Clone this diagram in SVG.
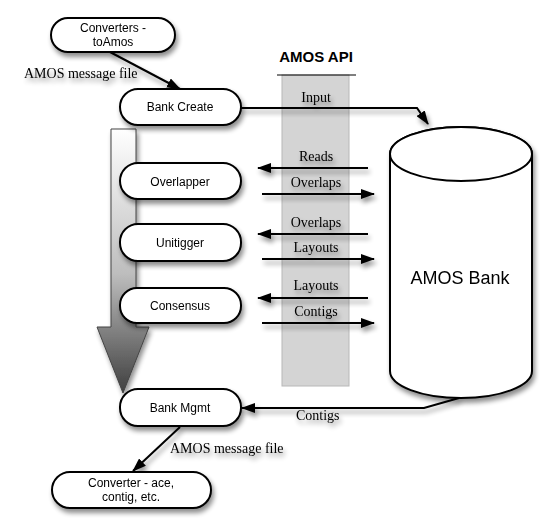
<svg xmlns="http://www.w3.org/2000/svg" width="552" height="532" viewBox="0 0 552 532">
  <defs>
    <filter id="sh" x="-20%" y="-20%" width="150%" height="160%">
      <feGaussianBlur in="SourceAlpha" stdDeviation="2.5"/>
      <feOffset dx="2" dy="4" result="b"/>
      <feComponentTransfer><feFuncA type="linear" slope="0.45"/></feComponentTransfer>
      <feMerge><feMergeNode/><feMergeNode in="SourceGraphic"/></feMerge>
    </filter>
    <linearGradient id="grad" x1="0" y1="0" x2="0" y2="1">
      <stop offset="0" stop-color="#ffffff"/>
      <stop offset="0.55" stop-color="#bdbdbd"/>
      <stop offset="1" stop-color="#3f3f3f"/>
    </linearGradient>
    <marker id="ah" markerWidth="14" markerHeight="10" refX="13" refY="5" orient="auto" markerUnits="userSpaceOnUse">
      <path d="M0,0 L14,5 L0,10 Z" fill="#000"/>
    </marker>
  </defs>
  <style>
    .node rect { fill: #fff; stroke: #000; stroke-width: 2; }
    .nt { font-family: "Liberation Sans", Arial, sans-serif; font-size: 12px; fill: #000; text-anchor: middle; }
    .lbl { font-family: "Liberation Serif", "Times New Roman", serif; font-size: 14px; fill: #000; }
    .mid { text-anchor: middle; }
    .conn line, .conn path { stroke: #000; stroke-width: 2; fill: none; marker-end: url(#ah); }
  </style>
  <rect width="552" height="532" fill="#fff"/>

  <!-- AMOS API band -->
  <g id="api">
    <rect x="282" y="75" width="67" height="311" fill="#d4d4d4" stroke="#b8b8b8" stroke-width="1"/>
    <line x1="277" y1="75" x2="356" y2="75" stroke="#000" stroke-width="1"/>
    <text x="316" y="62" font-family="Liberation Sans, Arial, sans-serif" font-size="15" font-weight="bold" text-anchor="middle">AMOS API</text>
  </g>

  <!-- Big process arrow -->
  <g id="flow-arrow" filter="url(#sh)">
    <path d="M111,129 H136 V327 H149 L123,393 L97,327 H111 Z" fill="url(#grad)" stroke="#444" stroke-width="1"/>
  </g>

  <!-- Cylinder -->
  <g id="amos-bank" filter="url(#sh)">
    <path d="M390,154 V371 A71,27 0 0 0 532,371 V154 A71,27 0 0 0 390,154 Z" fill="#fff" stroke="#000" stroke-width="2"/>
    <ellipse cx="461" cy="154" rx="71" ry="27" fill="#fff" stroke="#000" stroke-width="2"/>
    <text x="460" y="284" font-family="Liberation Sans, Arial, sans-serif" font-size="18" text-anchor="middle">AMOS Bank</text>
  </g>

  <!-- Connectors -->
  <g id="connectors" class="conn" filter="url(#sh)">
    <line x1="110" y1="52" x2="180" y2="89"/>
    <path d="M241,108 H417 L428,124"/>
    <line x1="368" y1="168" x2="258" y2="168"/>
    <line x1="262" y1="194" x2="374" y2="194"/>
    <line x1="368" y1="234" x2="258" y2="234"/>
    <line x1="262" y1="259" x2="374" y2="259"/>
    <line x1="368" y1="298" x2="258" y2="298"/>
    <line x1="262" y1="323" x2="374" y2="323"/>
    <path d="M459,398 L424,408 H242"/>
    <line x1="180" y1="427" x2="133" y2="471"/>
  </g>

  <!-- Connector labels -->
  <g id="labels" filter="url(#sh)">
    <text class="lbl" x="24" y="78">AMOS message file</text>
    <text class="lbl mid" x="316" y="102">Input</text>
    <text class="lbl mid" x="316" y="161">Reads</text>
    <text class="lbl mid" x="316" y="187">Overlaps</text>
    <text class="lbl mid" x="316" y="227">Overlaps</text>
    <text class="lbl mid" x="316" y="252">Layouts</text>
    <text class="lbl mid" x="316" y="290">Layouts</text>
    <text class="lbl mid" x="316" y="316">Contigs</text>
    <text class="lbl" x="296" y="420">Contigs</text>
    <text class="lbl" x="170" y="453">AMOS message file</text>
  </g>

  <!-- Nodes -->
  <g id="converters-toamos" class="node" filter="url(#sh)">
    <rect x="51" y="18" width="124" height="34" rx="17"/>
    <text class="nt" x="113" y="32">Converters -</text>
    <text class="nt" x="113" y="46">toAmos</text>
  </g>
  <g id="bank-create" class="node" filter="url(#sh)">
    <rect x="120" y="89" width="121" height="36" rx="18"/>
    <text class="nt" x="180" y="111">Bank Create</text>
  </g>
  <g id="overlapper" class="node" filter="url(#sh)">
    <rect x="120" y="163" width="121" height="36" rx="18"/>
    <text class="nt" x="180" y="186">Overlapper</text>
  </g>
  <g id="unitigger" class="node" filter="url(#sh)">
    <rect x="120" y="224" width="121" height="37" rx="18"/>
    <text class="nt" x="180" y="247">Unitigger</text>
  </g>
  <g id="consensus" class="node" filter="url(#sh)">
    <rect x="120" y="288" width="121" height="35" rx="17"/>
    <text class="nt" x="180" y="310">Consensus</text>
  </g>
  <g id="bank-mgmt" class="node" filter="url(#sh)">
    <rect x="120" y="389" width="121" height="37" rx="18"/>
    <text class="nt" x="180" y="412">Bank Mgmt</text>
  </g>
  <g id="converter-ace" class="node" filter="url(#sh)">
    <rect x="52" y="472" width="159" height="36" rx="18"/>
    <text class="nt" x="131" y="487">Converter - ace,</text>
    <text class="nt" x="131" y="501">contig, etc.</text>
  </g>
</svg>
